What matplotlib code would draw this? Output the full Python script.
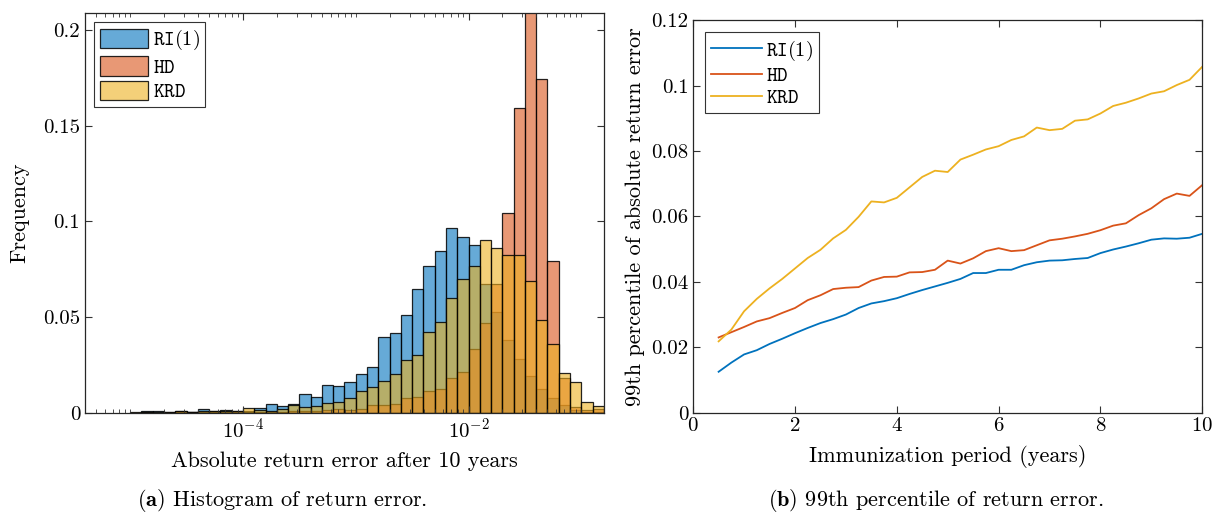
import numpy as np
import matplotlib
matplotlib.use("Agg")
import matplotlib.pyplot as plt
from matplotlib.ticker import FixedLocator, NullFormatter

plt.rcParams['font.family'] = 'serif'
plt.rcParams['font.serif'] = ['cmr10', 'DejaVu Serif']
plt.rcParams['mathtext.fontset'] = 'cm'
plt.rcParams['axes.formatter.use_mathtext'] = True
plt.rcParams['axes.unicode_minus'] = False

# histogram: bins of width 0.1 in log10, first left edge at 10^-5
log_first_edge = -5.0
log_bin_width = 0.1
freq_ri = [0, 0.0007, 0.0007, 0.0002, 0.0007, 0.0004, 0.0019, 0.0010, 0.0016, 0.0007,
           0.0010, 0.0024, 0.0044, 0.0033, 0.0047, 0.0097, 0.0080, 0.0142, 0.0140, 0.0158,
           0.0200, 0.0237, 0.0397, 0.0415, 0.0509, 0.0647, 0.0767, 0.0846, 0.0968, 0.0920,
           0.0875, 0.0671, 0.0528, 0.0380, 0.0282, 0.0192, 0.0124, 0.0077, 0.0040, 0.0014,
           0.0005, 0.0003]
freq_hd = [0, 0.0001, 0, 0, 0.0001, 0.0001, 0.0002, 0.0001, 0.0002, 0.0002,
           0.0003, 0.0004, 0.0003, 0.0004, 0.0008, 0.0006, 0.0010, 0.0014, 0.0017, 0.0015,
           0.0018, 0.0039, 0.0038, 0.0044, 0.0075, 0.0082, 0.0115, 0.0122, 0.0180, 0.0214,
           0.0333, 0.0471, 0.0671, 0.1046, 0.1595, 0.2250, 0.1746, 0.0791, 0.0180, 0.0028,
           0.0014, 0.0017]
freq_krd = [0.0002, 0.0005, 0.0003, 0.0002, 0.0008, 0.0003, 0.0010, 0.0007, 0.0008, 0.0008,
            0.0023, 0.0014, 0.0010, 0.0017, 0.0038, 0.0028, 0.0037, 0.0049, 0.0057, 0.0077,
            0.0112, 0.0134, 0.0167, 0.0202, 0.0274, 0.0304, 0.0422, 0.0474, 0.0600, 0.0697,
            0.0765, 0.0901, 0.0863, 0.0823, 0.0823, 0.0689, 0.0485, 0.0359, 0.0209, 0.0162,
            0.0056, 0.0037]

# 99th percentile vs immunization period
period = [0.5, 0.75, 1.0, 1.25, 1.5, 1.75, 2.0, 2.25, 2.5, 2.75, 3.0, 3.25, 3.5, 3.75,
          4.0, 4.25, 4.5, 4.75, 5.0, 5.25, 5.5, 5.75, 6.0, 6.25, 6.5, 6.75, 7.0, 7.25,
          7.5, 7.75, 8.0, 8.25, 8.5, 8.75, 9.0, 9.25, 9.5, 9.75, 10.0]
p99_ri = [0.0125, 0.0153, 0.0178, 0.0191, 0.0210, 0.0226, 0.0243, 0.0259, 0.0274, 0.0286,
          0.0300, 0.0320, 0.0334, 0.0341, 0.0350, 0.0363, 0.0375, 0.0386, 0.0397, 0.0409,
          0.0427, 0.0427, 0.0437, 0.0437, 0.0451, 0.0460, 0.0465, 0.0466, 0.0470, 0.0473,
          0.0488, 0.0499, 0.0508, 0.0518, 0.0529, 0.0533, 0.0532, 0.0535, 0.0547]
p99_hd = [0.0230, 0.0246, 0.0262, 0.0279, 0.0289, 0.0305, 0.0320, 0.0344, 0.0359, 0.0378,
          0.0382, 0.0384, 0.0404, 0.0415, 0.0416, 0.0429, 0.0430, 0.0437, 0.0465, 0.0456,
          0.0472, 0.0494, 0.0503, 0.0494, 0.0497, 0.0512, 0.0527, 0.0532, 0.0539, 0.0547,
          0.0558, 0.0572, 0.0579, 0.0604, 0.0625, 0.0653, 0.0670, 0.0663, 0.0696]
p99_krd = [0.0218, 0.0254, 0.0310, 0.0348, 0.0380, 0.0409, 0.0441, 0.0473, 0.0498, 0.0533,
           0.0559, 0.0599, 0.0646, 0.0643, 0.0657, 0.0689, 0.0721, 0.0740, 0.0736, 0.0774,
           0.0789, 0.0805, 0.0815, 0.0834, 0.0845, 0.0872, 0.0864, 0.0868, 0.0893, 0.0897,
           0.0915, 0.0938, 0.0948, 0.0961, 0.0976, 0.0983, 0.1002, 0.1018, 0.1058]

labels = [r'$\mathtt{RI}(1)$', r'$\mathtt{HD}$', r'$\mathtt{KRD}$']
colors = ['#0072BD', '#D95319', '#EDB120']

fig = plt.figure(figsize=(12.15, 5.21), dpi=100)
ax1 = fig.add_axes([0.070, 0.208, 0.427, 0.767])
ax2 = fig.add_axes([0.5705, 0.208, 0.419, 0.753])

# ---- (a) histogram
n = len(freq_ri)
edges = 10 ** (log_first_edge + log_bin_width * np.arange(n + 1))
for vals, c, lab in zip([freq_ri, freq_hd, freq_krd], colors, labels):
    ax1.bar(edges[:-1], vals, width=np.diff(edges), align='edge',
            facecolor=matplotlib.colors.to_rgba(c, 0.6),
            edgecolor=(0, 0, 0, 0.85), linewidth=0.9, label=lab)
ax1.set_xscale('log')
ax1.set_xlim(10 ** -5.4, 10 ** -0.8)
ax1.set_ylim(0, 0.209)
ax1.set_yticks([0, 0.05, 0.1, 0.15, 0.2])
ax1.set_yticklabels(['0', '0.05', '0.1', '0.15', '0.2'])
ax1.xaxis.set_major_locator(FixedLocator([1e-4, 1e-2]))
minor = [m * 10.0 ** e for e in range(-6, 0) for m in range(1, 10)]
minor = [v for v in minor if v not in (1e-4, 1e-2)]
ax1.xaxis.set_minor_locator(FixedLocator(minor))
ax1.xaxis.set_minor_formatter(NullFormatter())
ax1.set_xlabel('Absolute return error after 10 years', fontsize=16, labelpad=7)
ax1.set_ylabel('Frequency', fontsize=16, labelpad=10)
leg = ax1.legend(loc='upper left', fontsize=14.5, handlelength=2.4, handleheight=1.1,
                 fancybox=False, edgecolor='#333333', framealpha=1,
                 borderpad=0.3, labelspacing=0.2, handletextpad=0.2,
                 borderaxespad=0.45)
leg.get_frame().set_linewidth(0.8)

# ---- (b) 99th percentile
for vals, c, lab in zip([p99_ri, p99_hd, p99_krd], colors, labels):
    ax2.plot(period, vals, color=c, linewidth=1.3, label=lab)
ax2.set_xlim(0, 10)
ax2.set_ylim(0, 0.12)
ax2.set_xticks([0, 2, 4, 6, 8, 10])
ax2.set_yticks([0, 0.02, 0.04, 0.06, 0.08, 0.1, 0.12])
ax2.set_yticklabels(['0', '0.02', '0.04', '0.06', '0.08', '0.1', '0.12'])
ax2.set_xlabel('Immunization period (years)', fontsize=16, labelpad=7)
ax2.set_ylabel('99th percentile of absolute return error', fontsize=16, labelpad=4)
leg2 = ax2.legend(loc='upper left', fontsize=14.5, handlelength=2.5,
                  fancybox=False, edgecolor='#333333', framealpha=1,
                  borderpad=0.3, labelspacing=0.2, handletextpad=0.2,
                  borderaxespad=0.6)
leg2.get_frame().set_linewidth(0.8)

for ax in (ax1, ax2):
    ax.tick_params(which='both', direction='in', top=True, right=True,
                   labelsize=15, color='#333333')
    ax.tick_params(which='major', length=5)
    ax.tick_params(which='minor', length=3)
    for s in ax.spines.values():
        s.set_color('#262626')
        s.set_linewidth(0.9)

fig.text(0.2325, 0.04, r'$\mathbf{(a)}$ Histogram of return error.', fontsize=16,
         ha='center', va='center')
fig.text(0.7705, 0.04, r'$\mathbf{(b)}$ 99th percentile of return error.', fontsize=16,
         ha='center', va='center')

fig.savefig('out.png', dpi=100)
